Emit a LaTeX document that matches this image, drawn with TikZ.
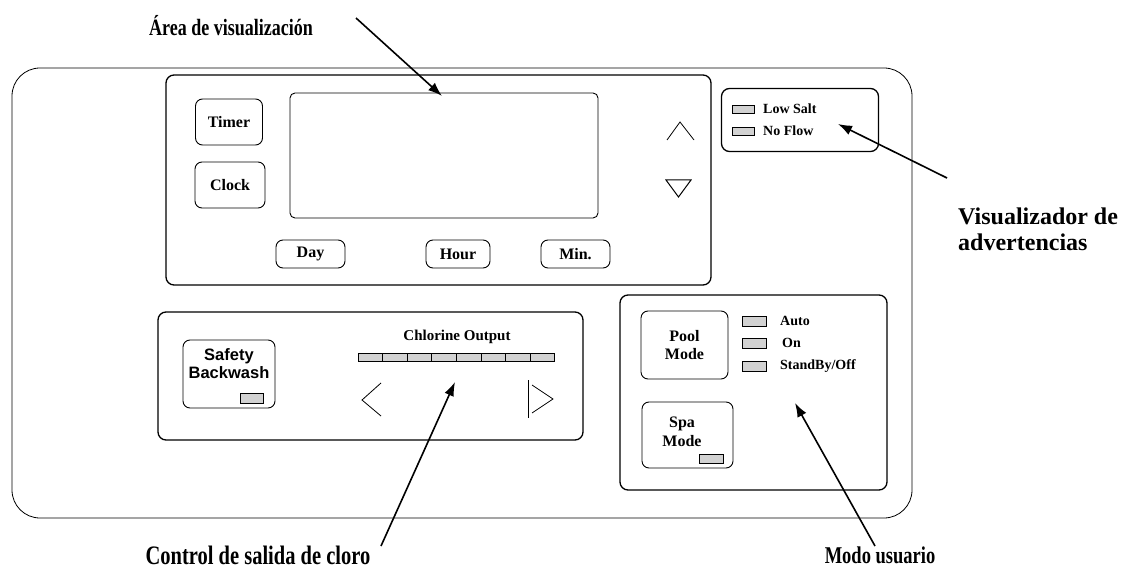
\documentclass[tikz,border=0pt]{standalone}
\usepackage{fontspec}
\setmainfont{Liberation Serif}
\setsansfont{Liberation Sans}
\usetikzlibrary{arrows.meta}
\newcommand{\Tall}[1]{\scalebox{1}[1.3]{#1}}

\begin{document}
\begin{tikzpicture}[x=1pt,y=-1pt]
          \tikzstyle{panel} = [draw, line width=0.8pt, rounded corners=28pt]
          \tikzstyle{group} = [draw, line width=1.3pt, rounded corners=8pt, inner sep=0pt]
          \tikzstyle{btn} = [draw, line width=0.9pt, rounded corners=7pt, inner sep=0pt,
            align=center, font=\fontsize{16}{18}\selectfont\bfseries]
          \tikzstyle{led} = [draw, line width=0.6pt, fill=gray!35, minimum width=22pt,
            minimum height=8pt, inner sep=0pt]
          \tikzstyle{ledtext} = [anchor=west, inner sep=0pt, font=\fontsize{14}{15}\selectfont\bfseries]
          \tikzstyle{callout} = [align=left, inner sep=0pt, font=\fontsize{18}{22}\selectfont\bfseries]
          \tikzstyle{line} = [draw, line width=1.6pt, -{Latex[length=14pt,width=10pt]}]

          \useasboundingbox (0,0) rectangle (1127,580);

          % outer panel
          \draw[panel] (12,68) rectangle (912,518);

          % display area
          \node(Display)[group, minimum width=545pt, minimum height=210pt] at (438.5,180) {};
          \node(Screen)[draw, line width=0.9pt, rounded corners=5pt, minimum width=308pt,
            minimum height=125pt] at (444,155.5) {};
          \node(Timer)[btn, minimum width=67pt, minimum height=46pt] at (229,122) {Timer};
          \node(Clock)[btn, minimum width=70pt, minimum height=46pt] at (230,185) {Clock};
          \node(Day)[btn, minimum width=69pt, minimum height=28pt] at (310.5,254) {Day};
          \node(Hour)[btn, minimum width=64pt, minimum height=28pt] at (458,254) {Hour};
          \node(Min)[btn, minimum width=69pt, minimum height=28pt] at (575.5,254) {Min.};
          \draw[line width=0.8pt] (667,140) -- (680,122) -- (694,140);
          \draw[line width=1pt] (666,180) -- (691,180) -- (678.5,197) -- cycle;

          % warnings
          \node(Warnings)[group, minimum width=157pt, minimum height=63pt] at (800,120) {};
          \node(LowSaltLed)[led] at (743,109) {};
          \node(LowSalt)[ledtext] at (763,109) {Low Salt};
          \node(NoFlowLed)[led] at (743,131) {};
          \node(NoFlow)[ledtext] at (763,131) {No Flow};

          % chlorine output
          \node(Chlorine)[group, minimum width=425pt, minimum height=128pt] at (370.5,376) {};
          \node(Backwash)[btn, minimum width=92pt, minimum height=68pt] at (229,374) {};
          \node(BackwashText)[align=center, inner sep=0pt, font=\sffamily\fontsize{16.5}{18}\selectfont\bfseries]
            at (229,364) {Safety\\Backwash};
          \node(BackwashLed)[led, minimum width=23pt, minimum height=10pt] at (252,398) {};
          \node(OutputTitle)[font=\fontsize{15}{16}\selectfont\bfseries] at (457,337) {Chlorine Output};
          \foreach \i in {0,...,7}
            \draw[line width=0.8pt, fill=gray!35] (358+\i*24.6,353) rectangle ++(24.6,8);
          \draw[line width=0.8pt] (381,383) -- (362,400) -- (381,416);
          \draw[line width=0.8pt] (528,380) -- (528,418);
          \draw[line width=0.8pt] (532,385) -- (553,399) -- (532,413);

          % user mode
          \node(UserMode)[group, minimum width=267pt, minimum height=195pt] at (753.5,392.5) {};
          \node(PoolMode)[btn, minimum width=87pt, minimum height=68pt] at (684.5,345) {Pool\\Mode};
          \node(SpaMode)[btn, minimum width=91pt, minimum height=66pt] at (687.5,435) {};
          \node(SpaText)[align=center, inner sep=0pt, font=\fontsize{16}{19}\selectfont\bfseries]
            at (682,432) {Spa\\Mode};
          \node(SpaLed)[led, minimum width=24pt, minimum height=9pt] at (711,459) {};
          \node(AutoLed)[led, minimum width=24pt, minimum height=10pt] at (754,321) {};
          \node(OnLed)[led, minimum width=24pt, minimum height=10pt] at (754,343) {};
          \node(StandbyLed)[led, minimum width=24pt, minimum height=10pt] at (754,366) {};
          \node(Auto)[ledtext] at (780,321) {Auto};
          \node(On)[ledtext] at (782,343) {On};
          \node(Standby)[ledtext] at (780,366) {StandBy/Off};

          % callouts
          \node(AreaLabel)[callout] at (231,26) {\Tall{Área de visualización}};
          \node(WarnLabel)[callout, anchor=west, font=\fontsize{24}{26}\selectfont\bfseries] at (958,229) {Visualizador de\\advertencias};
          \node(ControlLabel)[callout] at (258,555) {\Tall{\fontsize{20.5}{22}\selectfont Control de salida de cloro}};
          \node(ModeLabel)[callout] at (880,555) {\Tall{\fontsize{18.5}{22}\selectfont Modo usuario}};

          \coordinate(AreaStart) at (356,18);
          \coordinate(AreaTip) at (442,96);
          \coordinate(WarnStart) at (947,178);
          \coordinate(WarnTip) at (838,124);
          \coordinate(ControlStart) at (381,546);
          \coordinate(ControlTip) at (455,382);
          \coordinate(ModeStart) at (875,546);
          \coordinate(ModeTip) at (795,403);

          \draw[line] (AreaStart) -- (AreaTip);
          \draw[line] (WarnStart) -- (WarnTip);
          \draw[line] (ControlStart) -- (ControlTip);
          \draw[line] (ModeStart) -- (ModeTip);
        \end{tikzpicture}
\end{document}
